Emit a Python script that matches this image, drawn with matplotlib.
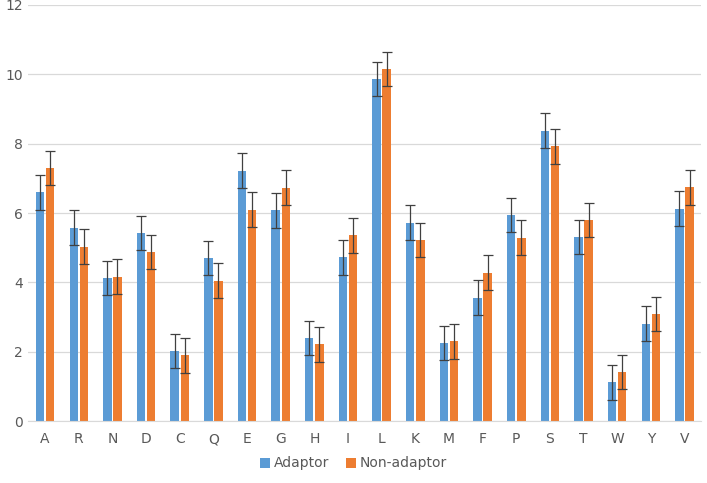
import numpy as np
import matplotlib
matplotlib.use("Agg")
import matplotlib.pyplot as plt

# data
letters = ['A', 'R', 'N', 'D', 'C', 'Q', 'E', 'G', 'H', 'I', 'L', 'K', 'M', 'F', 'P', 'S', 'T', 'W', 'Y', 'V']
adaptor = [6.6, 5.58, 4.13, 5.42, 2.02, 4.7, 7.22, 6.08, 2.4, 4.72, 9.86, 5.72, 2.25, 3.56, 5.94, 8.37, 5.31, 1.12, 2.81, 6.12]
non_adaptor = [7.3, 5.03, 4.16, 4.88, 1.9, 4.05, 6.1, 6.73, 2.21, 5.36, 10.15, 5.22, 2.3, 4.28, 5.29, 7.92, 5.8, 1.42, 3.09, 6.74]
adaptor_err = [0.5] * 20
non_adaptor_err = [0.5] * 20

blue = '#5B9BD5'
orange = '#ED7D31'
gray_txt = '#595959'

fig = plt.figure(figsize=(7.07, 4.83), dpi=100)
ax = fig.add_axes([0.04, 0.128, 0.952, 0.862])

x = np.arange(len(letters))
w = 0.25
ek = dict(ecolor='#404040', elinewidth=0.9, capsize=3.5, capthick=0.9)
ax.bar(x - 0.15, adaptor, w, color=blue, yerr=adaptor_err, error_kw=ek, label='Adaptor', zorder=2)
ax.bar(x + 0.15, non_adaptor, w, color=orange, yerr=non_adaptor_err, error_kw=ek, label='Non-adaptor', zorder=2)

ax.set_xlim(-0.5, len(letters) - 0.5)
ax.set_ylim(0, 12)
ax.set_yticks(range(0, 13, 2))
ax.set_xticks(x)
ax.set_xticklabels(letters)
ax.grid(axis='y', color='#D9D9D9', linewidth=0.9, zorder=0)
for s in ['top', 'right', 'left']:
    ax.spines[s].set_visible(False)
ax.spines['bottom'].set_color('#D9D9D9')
ax.tick_params(axis='both', length=0, colors=gray_txt, labelsize=10)
ax.tick_params(axis='x', pad=8)
ax.tick_params(axis='y', pad=4)

fig.legend(loc='lower center', bbox_to_anchor=(0.5, 0.0), ncol=2, frameon=False,
           fontsize=10, handlelength=0.7, handleheight=0.7, handletextpad=0.3,
           columnspacing=1.2, labelcolor=gray_txt)

fig.savefig('out.png', dpi=100)
